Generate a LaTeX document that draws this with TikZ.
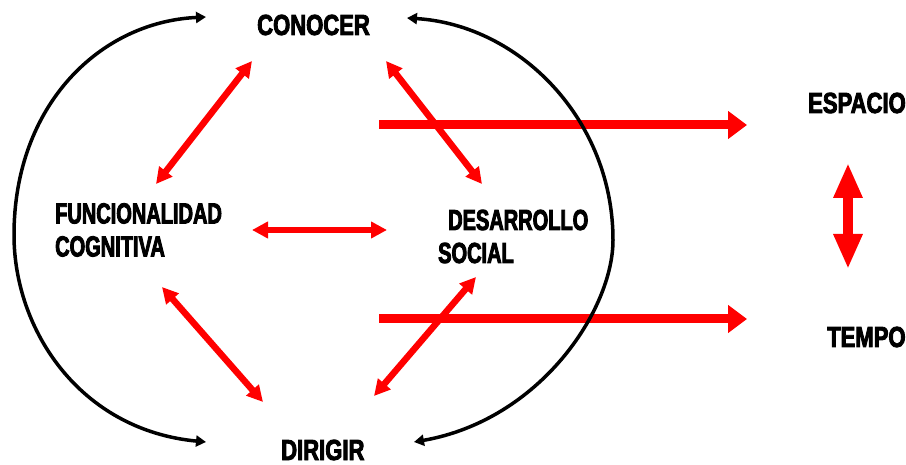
\documentclass[tikz,border=0pt]{standalone}
\usepackage{fontspec}
\newfontfamily\lab{Liberation Sans}[FakeStretch=0.76, FakeBold=3]
\newfontfamily\labn{Liberation Sans}[FakeStretch=0.69, FakeBold=3]
\usetikzlibrary{arrows.meta}
\tikzset{
  lbl/.style={inner sep=0pt, font=\lab\bfseries\fontsize{29}{33}\selectfont},
  lbln/.style={inner sep=0pt, font=\labn\bfseries\fontsize{29}{33}\selectfont},
  redarrow/.style={draw=red, line width=6.5pt, {Triangle[length=16pt,width=16pt]}-{Triangle[length=16pt,width=16pt]}},
  bigarrow/.style={draw=red, line width=9pt, -{Triangle[length=19pt,width=27pt]}},
  vertarrow/.style={draw=red, line width=10pt, {Triangle[length=35pt,width=27pt]}-{Triangle[length=35pt,width=27pt]}},
  arc/.style={draw=black, line width=3.5pt, {Triangle[length=10pt,width=11pt]}-{Triangle[length=10pt,width=11pt]}}
}
\begin{document}
\begin{tikzpicture}[x=1pt,y=-1pt]
\useasboundingbox (0,0) rectangle (906,465);
% labels
\node[lbl, anchor=base west] (conocer) at (257,35) {CONOCER};
\node[lbln, anchor=north west, align=left] (func) at (55,203) {FUNCIONALIDAD\\COGNITIVA};
\node[lbln, anchor=base west] (desarrollo) at (448,230) {DESARROLLO};
\node[lbln, anchor=base west] (social) at (438,263) {SOCIAL};
\node[lbl, anchor=base west] (dirigir) at (281,460) {DIRIGIR};
\node[lbl, anchor=base west] (espacio) at (808,113) {ESPACIO};
\node[lbl, anchor=base west] (tempo) at (827,347) {TEMPO};
% arrow end points
\coordinate (c1a) at (252,61);  \coordinate (c1b) at (156,184);
\coordinate (c2a) at (386,61);  \coordinate (c2b) at (482,184);
\coordinate (c3a) at (252,230); \coordinate (c3b) at (387,230);
\coordinate (c4a) at (162,287); \coordinate (c4b) at (263,402);
\coordinate (c5a) at (476,277); \coordinate (c5b) at (374,396);
\coordinate (h1a) at (379,125); \coordinate (h1b) at (747,125);
\coordinate (h2a) at (379,319); \coordinate (h2b) at (747,319);
\coordinate (va) at (848,163);  \coordinate (vb) at (848,269);
\coordinate (lt) at (206,17);   \coordinate (lb) at (206,442);
\coordinate (rt) at (407,18);   \coordinate (rb) at (414,442);
% red arrows
\draw[redarrow] (c1a) -- (c1b);
\draw[redarrow] (c2a) -- (c2b);
\draw[redarrow] (c3a) -- (c3b);
\draw[redarrow] (c4a) -- (c4b);
\draw[redarrow] (c5a) -- (c5b);
\draw[bigarrow] (h1a) -- (h1b);
\draw[bigarrow] (h2a) -- (h2b);
\draw[vertarrow] (va) -- (vb);
% black arcs
\draw[arc] (lt) .. controls (100,22) and (14,105) .. (14,235) .. controls (14,330) and (80,430) .. (lb);
\draw[arc] (rt) .. controls (520,25) and (613,120) .. (613,240) .. controls (613,310) and (540,420) .. (rb);
\end{tikzpicture}
\end{document}
